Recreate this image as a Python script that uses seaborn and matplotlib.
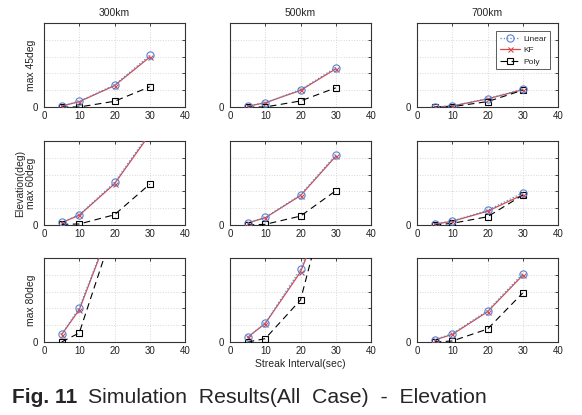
import matplotlib
matplotlib.use("Agg")
import matplotlib.pyplot as plt
import seaborn as sns
import pandas as pd
import numpy as np

# ---- data ----
intervals = [5, 10, 20, 30]
altitudes = ["300km", "500km", "700km"]
elev_rows = ["max 45deg", "max 60deg", "max 80deg"]
methods = ["Linear", "KF", "Poly"]

linear_45 = {"300km": [0.06, 0.34, 1.31, 3.07], "500km": [0.06, 0.26, 1.02, 2.35], "700km": [0.0, 0.06, 0.50, 1.06]}
kf_45 = {"300km": [0.05, 0.32, 1.27, 2.97], "500km": [0.05, 0.25, 0.99, 2.27], "700km": [0.0, 0.06, 0.48, 1.03]}
poly_45 = {"300km": [0.0, 0.0, 0.34, 1.20], "500km": [0.0, 0.0, 0.36, 1.14], "700km": [0.0, 0.02, 0.32, 1.00]}

linear_60 = {"300km": [0.16, 0.61, 2.53, 5.50], "500km": [0.14, 0.45, 1.80, 4.17], "700km": [0.06, 0.24, 0.87, 1.92]}
kf_60 = {"300km": [0.14, 0.58, 2.45, 5.40], "500km": [0.12, 0.43, 1.75, 4.09], "700km": [0.05, 0.22, 0.82, 1.80]}
poly_60 = {"300km": [0.04, 0.06, 0.61, 2.43], "500km": [0.0, 0.04, 0.53, 2.04], "700km": [0.0, 0.10, 0.49, 1.78]}

linear_80 = {"300km": [0.46, 2.02, 7.5, 14.0], "500km": [0.30, 1.13, 4.33, 9.6], "700km": [0.14, 0.49, 1.86, 4.07]}
kf_80 = {"300km": [0.44, 1.92, 7.4, 13.8], "500km": [0.28, 1.10, 4.17, 9.4], "700km": [0.12, 0.45, 1.80, 3.97]}
poly_80 = {"300km": [0.0, 0.54, 6.9, 14.0], "500km": [0.0, 0.20, 2.50, 10.5], "700km": [0.0, 0.06, 0.77, 2.92]}

series = {
    "max 45deg": {"Linear": linear_45, "KF": kf_45, "Poly": poly_45},
    "max 60deg": {"Linear": linear_60, "KF": kf_60, "Poly": poly_60},
    "max 80deg": {"Linear": linear_80, "KF": kf_80, "Poly": poly_80},
}

rows = []
for er in elev_rows:
    for m in methods:
        for alt in altitudes:
            for x, y in zip(intervals, series[er][m][alt]):
                rows.append({"elev": er, "method": m, "alt": alt, "interval": x, "error": y})
df = pd.DataFrame(rows)

# ---- style ----
sns.set_theme(style="white")
plt.rcParams["font.family"] = ["Liberation Sans Narrow", "Liberation Sans", "DejaVu Sans"]

styles = {
    "Linear": dict(color="#4a8fd8", linestyle=":", marker="o", markersize=5.2, mfc="none", mec="#5a7fd0", mew=0.8, lw=0.9),
    "KF": dict(color="#d9484a", linestyle="-", marker="x", markersize=3.6, mec="#d9484a", mew=0.8, lw=0.9),
    "Poly": dict(color="black", linestyle=(0, (6, 4)), marker="s", markersize=3.8, mfc="none", mec="black", mew=0.8, lw=0.8),
}

fig = plt.figure(figsize=(5.82, 4.15), dpi=100)
W, H = 582.0, 415.0
col_left = [44, 230, 417]
col_w = 141
row_top = [23, 141, 258]
row_h = 84

axes = {}
for r, er in enumerate(elev_rows):
    for c, alt in enumerate(altitudes):
        ax = fig.add_axes([col_left[c] / W, 1 - (row_top[r] + row_h) / H, col_w / W, row_h / H])
        sub = df[(df.elev == er) & (df.alt == alt)]
        for m in methods:
            d = sub[sub.method == m]
            st = styles[m]
            sns.lineplot(data=d, x="interval", y="error", ax=ax, color=st["color"],
                         linestyle=st["linestyle"], lw=st["lw"], marker=st["marker"],
                         markersize=st["markersize"], markerfacecolor=st.get("mfc", st["color"]),
                         markeredgecolor=st["mec"], markeredgewidth=st["mew"], label=m,
                         legend=False, zorder=3 if m != "Linear" else 4)
        ax.set_xlim(0, 40)
        ax.set_ylim(0, 5)
        ax.set_xticks([0, 10, 20, 30, 40])
        ax.set_yticks([0, 1, 2, 3, 4, 5])
        ax.set_yticklabels(["0", "", "", "", "", ""])
        ax.grid(True, color="#d8d8d8", linestyle=":", linewidth=0.7)
        ax.tick_params(axis="both", direction="in", length=2.5, width=0.6, labelsize=7,
                       colors="#222222", top=True, right=True, pad=3)
        ax.tick_params(axis="y", pad=4)
        for s in ax.spines.values():
            s.set_linewidth(0.8)
            s.set_color("#333333")
        ax.set_xlabel("")
        ax.set_ylabel("")
        axes[(r, c)] = ax

for c, alt in enumerate(altitudes):
    axes[(0, c)].set_title(alt, fontsize=7.5, pad=5)

axes[(0, 0)].set_ylabel("max 45deg", fontsize=7.5)
axes[(0, 0)].yaxis.set_label_coords(-0.06, 0.5)
axes[(1, 0)].set_ylabel("Elevation(deg)\nmax 60deg", fontsize=7.5, linespacing=1.05)
axes[(1, 0)].yaxis.set_label_coords(-0.06, 0.5)
axes[(2, 0)].set_ylabel("max 80deg", fontsize=7.5)
axes[(2, 0)].yaxis.set_label_coords(-0.06, 0.5)
axes[(2, 1)].set_xlabel("Streak Interval(sec)", fontsize=7.5, labelpad=2)

from matplotlib.lines import Line2D
handles = []
for m in methods:
    st = styles[m]
    handles.append(Line2D([], [], color=st["color"], linestyle=st["linestyle"], lw=st["lw"],
                          marker=st["marker"], markersize=st["markersize"],
                          markerfacecolor=st.get("mfc", st["color"]), markeredgecolor=st["mec"],
                          markeredgewidth=st["mew"]))
leg = axes[(0, 2)].legend(handles, methods, loc="upper right", fontsize=6, frameon=True,
                          fancybox=False, edgecolor="#333333", handlelength=2.4,
                          borderpad=0.4, labelspacing=0.45, handletextpad=0.4,
                          bbox_to_anchor=(0.97, 0.95))
leg.get_frame().set_linewidth(0.7)

fig.text(12 / W, 1 - 397 / H, "Fig. 11", fontsize=15, fontweight="bold",
         family=["Liberation Sans", "DejaVu Sans"], va="center", ha="left")
fig.text(88 / W, 1 - 397 / H, "Simulation  Results(All  Case)  -  Elevation", fontsize=15.3,
         family=["Liberation Sans", "DejaVu Sans"], va="center", ha="left")

fig.savefig("out.png", dpi=100)
